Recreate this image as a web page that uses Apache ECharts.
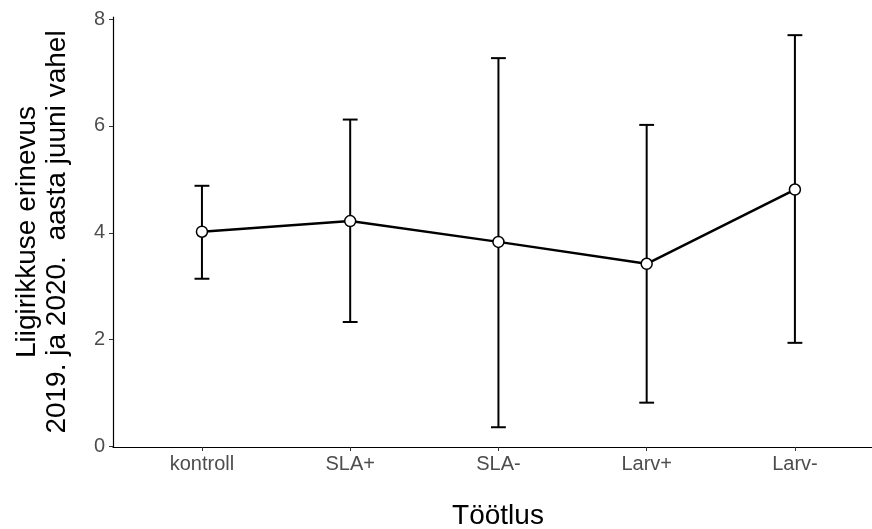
<!DOCTYPE html>
<html>
<head>
<meta charset="utf-8">
<script src="https://cdn.jsdelivr.net/npm/echarts@6/dist/echarts.min.js"></script>
<style>
  html, body { margin: 0; padding: 0; background: #fff; }
  #chart { width: 872px; height: 529px; }
</style>
</head>
<body>
<div id="chart"></div>
<script>
// Treatments and species richness change (mean with interval bounds)
const categories = ['kontroll', 'SLA+', 'SLA-', 'Larv+', 'Larv-'];
const means = [4.02, 4.22, 3.83, 3.42, 4.81];
const lower = [3.14, 2.33, 0.36, 0.82, 1.94];
const upper = [4.88, 6.12, 7.27, 6.02, 7.70];
const yTicks = [0, 2, 4, 6, 8];

const positions = categories.map((_, i) => i + 1);
const font = 'Liberation Sans, Arial, sans-serif';

const chart = echarts.init(document.getElementById('chart'), null, { renderer: 'canvas' });

const barData = positions.map((x, i) => [x, lower[i], upper[i]]);
const lineData = positions.map((x, i) => [x, means[i]]);
const capHalf = 0.05;

chart.setOption({
  animation: false,
  backgroundColor: '#ffffff',
  grid: { left: 113, right: 0, top: 17, bottom: 82 },
  xAxis: {
    type: 'value',
    min: 0.4,
    max: 5.52,
    splitLine: { show: false },
    axisLine: { onZero: false, lineStyle: { color: '#000', width: 1.2 } },
    axisTick: { show: true, customValues: positions, length: 4, lineStyle: { color: '#333', width: 1 } },
    axisLabel: {
      customValues: positions,
      color: '#4d4d4d',
      fontFamily: font,
      fontSize: 20,
      margin: 7,
      formatter: v => categories[Math.round(v) - 1] || ''
    }
  },
  yAxis: {
    type: 'value',
    min: -0.01,
    max: 8.04,
    splitLine: { show: false },
    axisLine: { show: true, lineStyle: { color: '#000', width: 1.2 } },
    axisTick: { show: true, customValues: yTicks, length: 4, lineStyle: { color: '#333', width: 1 } },
    axisLabel: {
      customValues: yTicks,
      color: '#4d4d4d',
      fontFamily: font,
      fontSize: 20,
      margin: 8
    }
  },
  graphic: [
    {
      type: 'text',
      x: 498,
      y: 516,
      style: {
        text: 'Töötlus',
        fontFamily: font,
        fontSize: 28,
        fill: '#000',
        textAlign: 'center',
        textVerticalAlign: 'middle'
      }
    },
    {
      type: 'text',
      x: 42,
      y: 232,
      rotation: Math.PI / 2,
      style: {
        text: 'Liigirikkuse erinevus\n2019. ja 2020.  aasta juuni vahel',
        fontFamily: font,
        fontSize: 28,
        lineHeight: 30,
        fill: '#000',
        textAlign: 'center',
        textVerticalAlign: 'middle'
      }
    }
  ],
  series: [
    {
      type: 'custom',
      z: 1,
      data: barData,
      renderItem: function (params, api) {
        const x = api.value(0);
        const lo = api.value(1);
        const hi = api.value(2);
        const pLo = api.coord([x, lo]);
        const pHi = api.coord([x, hi]);
        const left = api.coord([x - capHalf, lo])[0];
        const right = api.coord([x + capHalf, lo])[0];
        const style = { stroke: '#000', lineWidth: 2 };
        return {
          type: 'group',
          children: [
            { type: 'line', shape: { x1: pLo[0], y1: pLo[1], x2: pHi[0], y2: pHi[1] }, style },
            { type: 'line', shape: { x1: left, y1: pHi[1], x2: right, y2: pHi[1] }, style },
            { type: 'line', shape: { x1: left, y1: pLo[1], x2: right, y2: pLo[1] }, style }
          ]
        };
      }
    },
    {
      type: 'line',
      z: 3,
      data: lineData,
      symbol: 'circle',
      symbolSize: 11,
      showSymbol: true,
      lineStyle: { color: '#000', width: 2.5 },
      itemStyle: { color: '#fff', borderColor: '#000', borderWidth: 1.5 }
    }
  ]
});
</script>
</body>
</html>
